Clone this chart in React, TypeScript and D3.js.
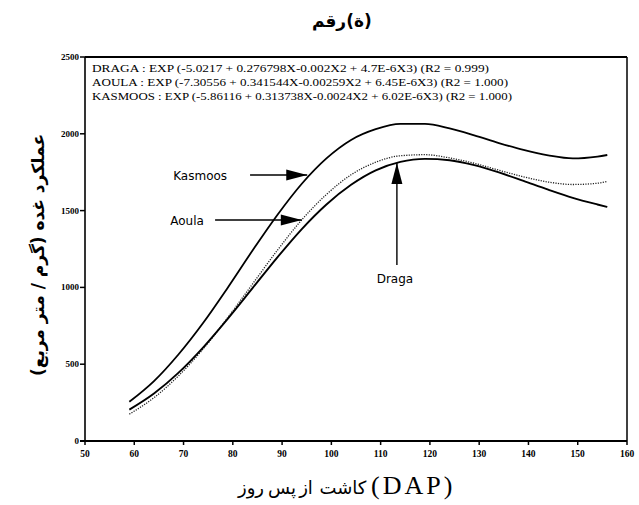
import React from "react";
import * as d3 from "d3";

// ---- data ----
const days = [59, 64, 69, 74, 79, 84, 89, 94, 99, 104, 109, 114, 119, 124, 129, 134, 139, 144, 149, 154, 156];
const kasmoos = [255, 390, 565, 770, 1000, 1240, 1470, 1675, 1840, 1960, 2030, 2065, 2065, 2035, 1990, 1940, 1895, 1860, 1840, 1852, 1862];
const aoula = [175, 282, 425, 600, 805, 1022, 1240, 1440, 1605, 1733, 1815, 1857, 1864, 1843, 1808, 1763, 1720, 1686, 1670, 1678, 1690];
const draga = [204, 309, 445, 610, 797, 995, 1194, 1380, 1540, 1668, 1762, 1817, 1837, 1828, 1796, 1749, 1693, 1636, 1583, 1540, 1524];

const xTicks = [50, 60, 70, 80, 90, 100, 110, 120, 130, 140, 150, 160];
const yTicks = [0, 500, 1000, 1500, 2000, 2500];

const formulas = [
  "DRAGA : EXP (-5.0217 + 0.276798X-0.002X2 + 4.7E-6X3) (R2 = 0.999)",
  "AOULA : EXP (-7.30556 + 0.341544X-0.00259X2 + 6.45E-6X3) (R2 = 1.000)",
  "KASMOOS : EXP (-5.86116 + 0.313738X-0.0024X2 + 6.02E-6X3) (R2 = 1.000)",
];
const formulaWidths = [397, 416, 420];

// annotations in data units: label position, arrow start/end
const labelNames = ["Kasmoos", "Aoula", "Draga"];
const labelX = [67.9, 67.3, 112.9];
const labelY = [1699, 1406, 1029];
const arrowX1 = [83.5, 76.4, 113.3];
const arrowY1 = [1732, 1439, 1146];
const arrowX2 = [95.1, 94.0, 113.3];
const arrowY2 = [1732, 1439, 1810];

// title / axis title pieces with their centre positions
const titleWordA = "رقم";
const titleWordB = "(ة)";
const xWordRooz = "روز";
const xWordPas = "پس";
const xWordAz = "از";
const xWordKasht = "کاشت";
const xTitleLatin = "(DAP)";
const yTitle = "عملکرد غده (گرم / متر مربع)";

export default function App() {
  const W = 639, H = 505;
  const x = d3.scaleLinear().domain([50, 160]).range([85, 627]);
  const y = d3.scaleLinear().domain([0, 2500]).range([441, 57]);

  const line = (vals: number[]) =>
    d3.line<number>()
      .x((_, i) => x(days[i]))
      .y((v) => y(v))
      .curve(d3.curveMonotoneX)(vals) as string;

  const arrowHead = (x1: number, y1: number, x2: number, y2: number) => {
    const L = 21, hw = 5.5;
    const dx = x2 - x1, dy = y2 - y1;
    const len = Math.hypot(dx, dy);
    const ux = dx / len, uy = dy / len;
    const bx = x2 - ux * L, by = y2 - uy * L;
    return `M${x2},${y2}L${bx - uy * hw},${by + ux * hw}L${bx + uy * hw},${by - ux * hw}Z`;
  };

  const serif = "'Liberation Serif', 'Times New Roman', serif";
  const arab = "'DejaVu Sans', sans-serif";

  const xWords: [string, number][] = [
    [xWordRooz, 251],
    [xWordPas, 282],
    [xWordAz, 306],
    [xWordKasht, 343],
  ];

  return (
    <svg width={W} height={H} style={{ position: "absolute", left: 0, top: 0, background: "#fff" }}>
      <rect x={0} y={0} width={W} height={H} fill="#fff" />
      {/* title */}
      <text x={329} y={27} textAnchor="middle" fontFamily={arab} fontWeight="bold" fontSize={17} fill="#000">
        {titleWordA}
      </text>
      <text x={359} y={27} textAnchor="middle" fontFamily={arab} fontWeight="bold" fontSize={17} fill="#000">
        {titleWordB}
      </text>

      {/* frame */}
      <line x1={x(50)} x2={x(160)} y1={y(2500)} y2={y(2500)} stroke="#000" strokeWidth={2} />
      <line x1={x(160)} x2={x(160)} y1={y(2500)} y2={y(0)} stroke="#000" strokeWidth={1.5} />
      <line x1={x(50)} x2={x(50)} y1={y(2500)} y2={y(0)} stroke="#000" strokeWidth={1.6} />
      <line x1={x(50) - 5} x2={x(160)} y1={y(0)} y2={y(0)} stroke="#000" strokeWidth={2.2} />

      {/* y ticks */}
      {yTicks.map((t) => (
        <g key={"y" + t}>
          <line x1={x(50) - 5} x2={x(50)} y1={y(t)} y2={y(t)} stroke="#000" strokeWidth={1.5} />
          <text x={x(50) - 6} y={y(t) + 3} textAnchor="end" fontFamily={serif} fontWeight="bold" fontSize={9} fill="#000">
            {t}
          </text>
        </g>
      ))}
      {/* x ticks */}
      {xTicks.map((t) => (
        <g key={"x" + t}>
          <line x1={x(t)} x2={x(t)} y1={y(0)} y2={y(0) + 4} stroke="#000" strokeWidth={1.5} />
          <text x={x(t)} y={y(0) + 16} textAnchor="middle" fontFamily={serif} fontWeight="bold" fontSize={9.5} fill="#000">
            {t}
          </text>
        </g>
      ))}

      {/* formulas */}
      {formulas.map((f, i) => (
        <text key={"f" + i} x={92} y={72 + i * 14} fontFamily={serif} fontSize={10.5} fill="#000"
          textLength={formulaWidths[i]} lengthAdjust="spacingAndGlyphs">
          {f}
        </text>
      ))}

      {/* curves */}
      <path d={line(kasmoos)} fill="none" stroke="#000" strokeWidth={1.8} />
      <path d={line(aoula)} fill="none" stroke="#222" strokeWidth={1.3} strokeDasharray="1.2,1.3" />
      <path d={line(draga)} fill="none" stroke="#000" strokeWidth={1.9} />

      {/* annotations */}
      {labelNames.map((n, i) => {
        const x1 = x(arrowX1[i]), y1 = y(arrowY1[i]), x2 = x(arrowX2[i]), y2 = y(arrowY2[i]);
        return (
          <g key={"a" + i}>
            <line x1={x1} y1={y1} x2={x2} y2={y2} stroke="#000" strokeWidth={1.4} />
            <path d={arrowHead(x1, y1, x2, y2)} fill="#000" />
            <text x={x(labelX[i])} y={y(labelY[i])} textAnchor={i === 2 ? "middle" : "start"}
              fontFamily="'DejaVu Sans', sans-serif" fontSize={12} fill="#000">
              {n}
            </text>
          </g>
        );
      })}

      {/* x axis title */}
      {xWords.map(([w, cx], i) => (
        <text key={"xw" + i} x={cx} y={494} textAnchor="middle" fontFamily={arab} fontSize={18} fill="#000">
          {w}
        </text>
      ))}
      <text x={371} y={494} fontFamily={serif} fontSize={26} letterSpacing={3} fill="#000">
        {xTitleLatin}
      </text>

      {/* y axis title */}
      <text transform={`translate(44,${255}) rotate(-90)`} textAnchor="middle" direction="rtl"
        style={{ direction: "rtl", unicodeBidi: "embed" }} fontFamily={arab} fontWeight="bold" fontSize={17} fill="#000">
        {yTitle}
      </text>
    </svg>
  );
}
